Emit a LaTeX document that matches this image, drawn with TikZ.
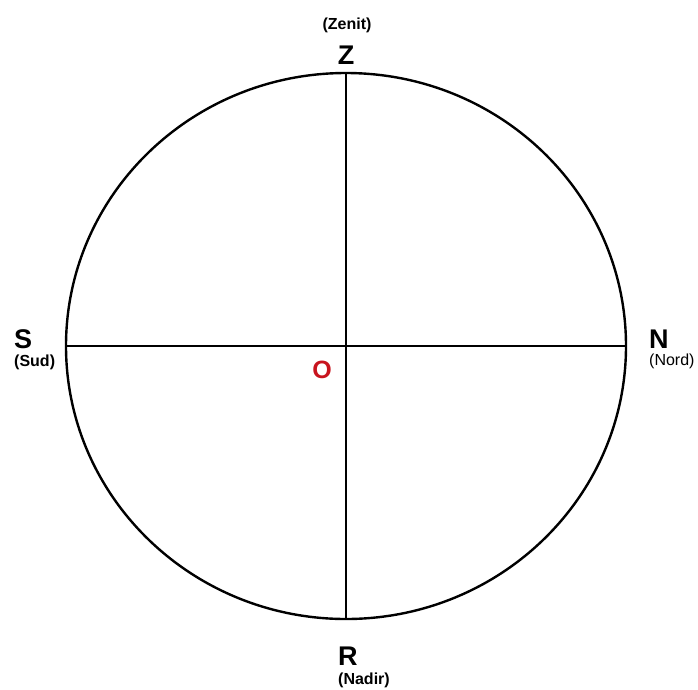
\documentclass[tikz,border=0pt]{standalone}
\usepackage{fontspec}
\setmainfont{Liberation Sans}
\usetikzlibrary{positioning}
\definecolor{ored}{RGB}{200,20,30}
\tikzset{
  pole/.style={font=\bfseries\fontsize{27}{27}\selectfont, inner sep=0pt},
  polename/.style={font=\bfseries\fontsize{16}{16}\selectfont, inner sep=0pt},
}
\begin{document}
\begin{tikzpicture}[x=1pt, y=-1pt, line width=2.4pt]
  \useasboundingbox (0,0) rectangle (698,689);
  \coordinate (c) at (346,346);
  \draw (c) ellipse [x radius=280, y radius=273];
  \coordinate (top) at (346,73); \coordinate (bot) at (346,619);
  \coordinate (lft) at (66,346); \coordinate (rgt) at (626,346);
  \draw (top) -- (bot);
  \draw (lft) -- (rgt);
  \node[pole] (Z) at (346,55) {Z};
  \node[polename] (zenit) at (347,25) {(Zenit)};
  \node[pole, anchor=west] (S) at (13,339) {S};
  \node[polename, anchor=west] (sud) at (13,362) {(Sud)};
  \node[pole, anchor=west] (N) at (648,339) {N};
  \node[polename, anchor=west, font=\fontsize{16}{16}\selectfont] (nord) at (648,361) {(Nord)};
  \node[pole, anchor=west] (R) at (337,656) {R};
  \node[polename, anchor=west] (nadir) at (337,680) {(Nadir)};
  \node[pole, text=ored, font=\bfseries\fontsize{25}{25}\selectfont] (O) at (322,370) {O};
\end{tikzpicture}
\end{document}
